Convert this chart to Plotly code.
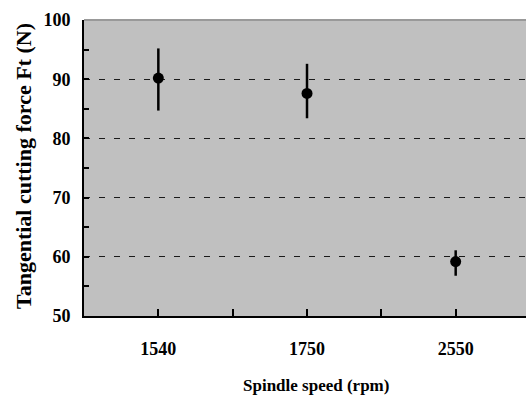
import plotly.graph_objects as go
import numpy as np

categories = ["1540", "1750", "2550"]
force_mean = [90.2, 87.6, 59.2]
force_upper = [95.2, 92.6, 61.1]
force_lower = [84.7, 83.4, 56.8]
y_ticks = [50, 60, 70, 80, 90, 100]

x_pos = np.arange(len(categories))
err_plus = np.array(force_upper) - np.array(force_mean)
err_minus = np.array(force_mean) - np.array(force_lower)

FONT = "Liberation Serif"

fig = go.Figure()
fig.add_trace(go.Scatter(
    x=x_pos, y=force_mean, mode="markers",
    marker=dict(color="black", size=11, symbol="circle"),
    error_y=dict(type="data", symmetric=False, array=err_plus, arrayminus=err_minus,
                 color="black", thickness=2.5, width=0),
    showlegend=False,
))

tick_x = np.arange(0, len(categories) - 0.5, 0.5)
tick_text = ["<b>" + categories[int(v)] + "</b>" if float(v).is_integer() else "" for v in tick_x]

fig.update_layout(
    width=526, height=398,
    margin=dict(l=84, r=0, t=20, b=82),
    paper_bgcolor="white", plot_bgcolor="#c0c0c0",
    font=dict(family=FONT, color="black"),
    xaxis=dict(
        range=[-0.5, 2.473], tickvals=tick_x, ticktext=tick_text,
        ticks="inside", ticklen=7, tickwidth=1.5, tickcolor="black",
        showline=True, linecolor="black", linewidth=2, showgrid=False, zeroline=False,
        tickfont=dict(family=FONT, size=18, color="black"),
        ticklabelstandoff=15,
    ),
    yaxis=dict(
        range=[50, 100], tickvals=y_ticks, ticktext=["<b>%d</b>" % v for v in y_ticks],
        ticks="inside", ticklen=5, tickwidth=1.5, tickcolor="black",
        minor=dict(dtick=5, ticks="inside", ticklen=5, tickwidth=1.5, tickcolor="black", showgrid=False),
        showline=True, linecolor="black", linewidth=2,
        showgrid=True, gridcolor="#1a1a1a", gridwidth=1, griddash="6px,9px", zeroline=False,
        tickfont=dict(family=FONT, size=18, color="black"),
        ticklabelstandoff=8,
    ),
    shapes=[dict(type="line", xref="paper", yref="paper", x0=0, x1=1, y0=1, y1=1,
                 line=dict(color="#999999", width=2))],
    annotations=[
        dict(text="<b>Spindle speed (rpm)</b>", xref="paper", yref="paper", x=(316 - 84) / 442, y=-69 / 296,
             xanchor="center", yanchor="middle", showarrow=False,
             font=dict(family=FONT, size=17, color="black")),
        dict(text="<b>Tangential cutting force Ft (N)</b>", xref="paper", yref="paper",
             x=(23 - 84) / 442, y=(316 - 166) / 296, textangle=-90,
             xanchor="center", yanchor="middle", showarrow=False,
             font=dict(family=FONT, size=22, color="black")),
    ],
)

fig.write_html("out.html")
